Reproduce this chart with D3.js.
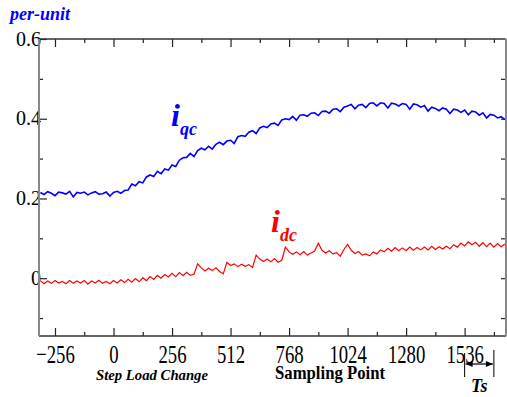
<!DOCTYPE html>
<html>
<head>
<meta charset="utf-8">
<script src="https://cdn.jsdelivr.net/npm/d3@7"></script>
<style>
  body { margin: 0; background: #fff; }
  svg { display: block; }
  text { font-family: "Liberation Serif", "DejaVu Serif", serif; }
</style>
</head>
<body>
<div id="chart"></div>
<script>
// sampling points (every 16th sample) and the currents, per-unit
const samplePoints = d3.range(-320, 1713, 16);

const iqc = [
  .215, .210, .217, .213, .207, .216, .214, .211, .218, .204, .215, .213, .216, .209, .214, .217,
  .211, .212, .216, .206, .215, .218, .213, .220, .221, .236, .232, .242, .239, .254, .259, .255,
  .268, .262, .274, .271, .284, .280, .296, .302, .303, .313, .305, .320, .326, .322, .331, .324,
  .336, .341, .335, .344, .346, .338, .355, .358, .356, .366, .370, .363, .377, .381, .378, .387,
  .389, .383, .397, .400, .398, .406, .396, .409, .410, .406, .414, .415, .408, .418, .419, .414,
  .424, .425, .418, .429, .432, .436, .425, .434, .436, .428, .438, .440, .432, .440, .438, .427,
  .439, .437, .432, .438, .436, .424, .437, .435, .429, .433, .419, .429, .426, .420, .427, .424,
  .413, .424, .422, .416, .422, .410, .419, .417, .409, .415, .402, .411, .409, .402, .405, .398
];

const idc = [
  -.006, -.014, -.007, -.013, -.006, -.012, -.008, -.014, -.006, -.013, -.007, -.012, -.006, -.015, -.007, -.012,
  -.005, -.013, -.008, -.014, -.006, -.012, -.004, -.011, -.003, -.010, -.001, -.009, .001, -.006, .004, -.003,
  .007, .000, .009, .003, .012, .004, .014, .006, .015, .007, .010, .036, .026, .018, .025, .019,
  .026, .017, .011, .040, .032, .036, .029, .035, .030, .034, .027, .058, .048, .042, .048, .041,
  .049, .040, .045, .078, .066, .060, .066, .059, .067, .058, .063, .068, .088, .070, .063, .069,
  .061, .064, .055, .072, .085, .070, .062, .067, .058, .061, .056, .066, .061, .071, .066, .075,
  .068, .077, .069, .076, .069, .078, .070, .077, .071, .078, .071, .080, .072, .079, .073, .080,
  .074, .084, .078, .088, .081, .091, .084, .090, .080, .089, .079, .088, .078, .087, .079, .086
];

const xMajorTicks = [-256, 0, 256, 512, 768, 1024, 1280, 1536];
const xMinorTicks = [-128, 128, 384, 640, 896, 1152, 1408, 1664];
const yMajorTicks = [0.6, 0.4, 0.2, 0];
const yMinorTicks = [0.5, 0.3, 0.1, -0.1];
const yRightTicks = [0.5, 0.4, 0.3, 0.2, 0.1, 0, -0.1];
const tsSpan = [1536, 1664];

const width = 507;
const height = 397;
const plotL = 39, plotR = 506, plotT = 39, plotB = 336;

const svg = d3.select('#chart')
  .append('svg')
  .attr('width', width)
  .attr('height', height);

const x = d3.scaleLinear().domain([-326, 1717]).range([plotL, plotR]);
const y = d3.scaleLinear().domain([-0.145, 0.6]).range([plotB, plotT]);

const fmtY = d => d === 0 ? '0' : d3.format('.1f')(d);

// ticks pointing into the plot
function ticks(axis, tx, ty) {
  const g = svg.append('g')
    .attr('transform', 'translate(' + tx + ',' + ty + ')')
    .call(axis);
  g.select('.domain').remove();
  g.selectAll('line').attr('stroke', '#222').attr('stroke-width', 1.2);
  return g;
}

ticks(d3.axisTop(x).tickValues(xMajorTicks).tickSize(8).tickFormat(''), 0, plotB);
ticks(d3.axisTop(x).tickValues(xMinorTicks).tickSize(4).tickFormat(''), 0, plotB);
ticks(d3.axisBottom(x).tickValues(xMajorTicks).tickSize(8).tickFormat(''), 0, plotT);
ticks(d3.axisBottom(x).tickValues(xMinorTicks).tickSize(4).tickFormat(''), 0, plotT);
ticks(d3.axisRight(y).tickValues(yMajorTicks).tickSize(8).tickFormat(''), plotL, 0);
ticks(d3.axisRight(y).tickValues(yMinorTicks).tickSize(4).tickFormat(''), plotL, 0);
ticks(d3.axisLeft(y).tickValues(yRightTicks).tickSize(5).tickFormat(''), plotR, 0);

// tick labels
const xLab = svg.append('g')
  .attr('transform', 'translate(0,' + plotB + ')')
  .call(d3.axisBottom(x).tickValues(xMajorTicks).tickSize(0).tickPadding(9).tickFormat(d3.format('d')));
xLab.select('.domain').remove();
xLab.selectAll('text')
  .attr('fill', '#000')
  .style('font-size', '26px')
  .style('font-family', '"Liberation Serif", serif')
  .attr('transform', 'scale(0.72,1)');

const yLab = svg.append('g')
  .attr('transform', 'translate(' + plotL + ',0)')
  .call(d3.axisLeft(y).tickValues(yMajorTicks).tickSize(0).tickPadding(-2).tickFormat(fmtY));
yLab.select('.domain').remove();
yLab.selectAll('text')
  .attr('fill', '#000')
  .attr('dy', '0.3em')
  .style('font-size', '20px')
  .style('font-family', '"Liberation Serif", serif');

// frame
svg.append('line').attr('x1', plotL).attr('x2', plotR).attr('y1', plotT).attr('y2', plotT)
  .attr('stroke', '#333').attr('stroke-width', 1.5);
svg.append('line').attr('x1', plotL).attr('x2', plotR).attr('y1', plotB).attr('y2', plotB)
  .attr('stroke', '#333').attr('stroke-width', 1.5);
svg.append('line').attr('x1', plotL).attr('x2', plotL).attr('y1', plotT).attr('y2', plotB)
  .attr('stroke', '#888').attr('stroke-width', 2);
svg.append('line').attr('x1', plotR).attr('x2', plotR).attr('y1', plotT).attr('y2', plotB)
  .attr('stroke', '#888').attr('stroke-width', 2);

// traces
const line = d3.line()
  .x((d, i) => x(samplePoints[i]))
  .y(d => y(d));

svg.append('path').datum(iqc)
  .attr('d', line)
  .attr('fill', 'none')
  .attr('stroke', '#0000ff')
  .attr('stroke-width', 1.6);

svg.append('path').datum(idc)
  .attr('d', line)
  .attr('fill', 'none')
  .attr('stroke', '#ff0000')
  .attr('stroke-width', 1.2);

// labels
svg.append('text')
  .attr('x', 10).attr('y', 20)
  .attr('fill', '#0000ff')
  .style('font-size', '18px').style('font-weight', 'bold').style('font-style', 'italic')
  .attr('textLength', 60).attr('lengthAdjust', 'spacingAndGlyphs')
  .text('per-unit');

function traceLabel(tx, ty, sub, color) {
  const t = svg.append('text')
    .attr('x', tx).attr('y', ty)
    .attr('fill', color)
    .style('font-weight', 'bold').style('font-style', 'italic');
  t.append('tspan').style('font-size', '32px').text('i');
  t.append('tspan').attr('dy', 9).style('font-size', '18px').text(sub);
}
traceLabel(171, 126, 'qc', '#0000ff');
traceLabel(271, 232, 'dc', '#ff0000');

svg.append('text')
  .attr('x', 152).attr('y', 380)
  .attr('text-anchor', 'middle')
  .style('font-size', '15px').style('font-weight', 'bold').style('font-style', 'italic')
  .attr('textLength', 112).attr('lengthAdjust', 'spacingAndGlyphs')
  .text('Step Load Change');

svg.append('text')
  .attr('x', 330).attr('y', 379)
  .attr('text-anchor', 'middle')
  .style('font-size', '18px').style('font-weight', 'bold')
  .attr('textLength', 110).attr('lengthAdjust', 'spacingAndGlyphs')
  .text('Sampling Point');

// Ts marker
const ts0 = x(tsSpan[0]), ts1 = x(tsSpan[1]);
svg.append('line').attr('x1', ts0).attr('x2', ts0).attr('y1', 353).attr('y2', 377)
  .attr('stroke', '#000').attr('stroke-width', 1);
svg.append('line').attr('x1', ts1).attr('x2', ts1).attr('y1', 350).attr('y2', 377)
  .attr('stroke', '#000').attr('stroke-width', 1);
svg.append('line').attr('x1', ts0 + 1).attr('x2', ts1 - 1).attr('y1', 364).attr('y2', 364)
  .attr('stroke', '#000').attr('stroke-width', 1.2);
svg.append('path')
  .attr('d', 'M' + (ts0 + 1) + ',364 l7,-3 l0,6 z M' + (ts1 - 1) + ',364 l-7,-3 l0,6 z')
  .attr('fill', '#000');
svg.append('text')
  .attr('x', (ts0 + ts1) / 2).attr('y', 392)
  .attr('text-anchor', 'middle')
  .style('font-size', '18px').style('font-weight', 'bold').style('font-style', 'italic')
  .text('Ts');
</script>
</body>
</html>
